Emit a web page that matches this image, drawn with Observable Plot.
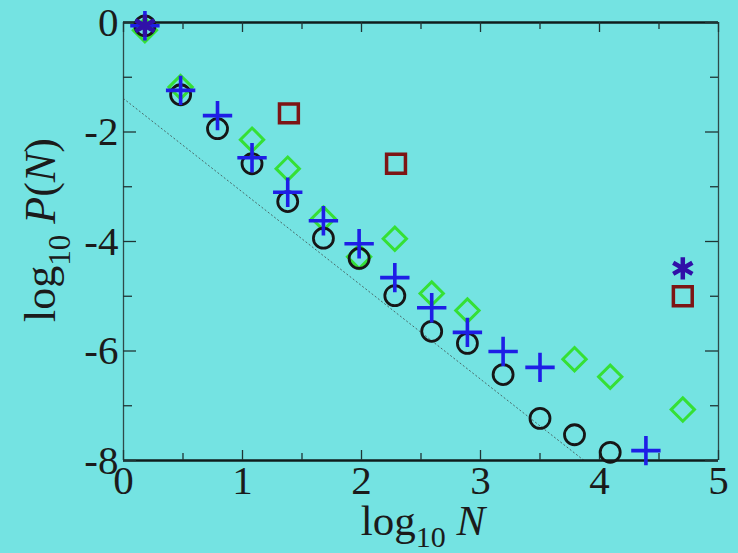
<!DOCTYPE html>
<html>
<head>
<meta charset="utf-8">
<script src="https://cdn.jsdelivr.net/npm/d3@7"></script>
<script src="https://cdn.jsdelivr.net/npm/@observablehq/plot@0.6"></script>
<style>
  html, body { margin: 0; padding: 0; background: #74e3e2; }
  #chart { width: 738px; height: 553px; }
</style>
</head>
<body>
<div id="chart"></div>
<script>
// Data (log10 N, log10 P(N))
const circleX = [0.18, 0.48, 0.79, 1.08, 1.38, 1.68, 1.98, 2.28, 2.59, 2.89, 3.19, 3.50, 3.79, 4.09];
const circleY = [-0.06, -1.32, -1.94, -2.58, -3.27, -3.94, -4.31, -4.99, -5.64, -5.86, -6.43, -7.23, -7.53, -7.85];

const plusX = [0.18, 0.48, 0.79, 1.08, 1.38, 1.68, 1.98, 2.28, 2.59, 2.89, 3.19, 3.50, 4.39];
const plusY = [-0.06, -1.24, -1.70, -2.47, -3.10, -3.62, -4.04, -4.66, -5.21, -5.66, -6.01, -6.30, -7.82];

const diamondX = [0.18, 0.48, 1.08, 1.38, 1.68, 1.98, 2.28, 2.59, 2.89, 3.79, 4.09, 4.70];
const diamondY = [-0.14, -1.18, -2.14, -2.67, -3.58, -4.28, -3.95, -4.95, -5.26, -6.15, -6.47, -7.07];

const squareX = [1.39, 2.29, 4.70];
const squareY = [-1.66, -2.58, -5.00];

const starX = [0.18, 4.70];
const starY = [-0.06, -4.49];

const fitX = [0, 3.87];
const fitY = [-1.39, -8];

const xMajor = [0, 1, 2, 3, 4, 5];
const xMinor = [0.5, 1.5, 2.5, 3.5, 4.5];
const yMajor = [0, -2, -4, -6, -8];
const yMinor = [-1, -3, -5, -7];

const pts = (xs, ys) => xs.map((x, i) => ({x, y: ys[i]}));

const W = 738, H = 553;
const mL = 123, mR = 20, mT = 22, mB = 93;
const pw = W - mL - mR, ph = H - mT - mB;
const font = "'Liberation Serif', 'Times New Roman', serif";
const fmt = d => String(d);
const ink = "#1b1b1b";

const chart = Plot.plot({
  width: W, height: H,
  marginLeft: mL, marginRight: mR, marginTop: mT, marginBottom: mB,
  style: {background: "transparent", fontFamily: font, color: ink, overflow: "visible"},
  x: {domain: [0, 5], axis: null},
  y: {domain: [-8, 0], axis: null},
  marks: [
    // fit line
    Plot.line(pts(fitX, fitY), {x: "x", y: "y", stroke: "#4a6a6a", strokeWidth: 1, strokeDasharray: "1.2,2.8"}),
    // frame
    Plot.ruleX([0, 5], {stroke: "#2e4a4a", strokeWidth: 1.3}),
    Plot.ruleY([0, -8], {stroke: "#0f1d1d", strokeWidth: 2.4}),
    // ticks (inward)
    Plot.tickX(xMajor, {x: d => d, insetTop: ph - 10, stroke: "#1f3535", strokeWidth: 1.3}),
    Plot.tickX(xMinor, {x: d => d, insetTop: ph - 7, stroke: "#1f3535", strokeWidth: 1.3}),
    Plot.tickX(xMajor, {x: d => d, insetBottom: ph - 10, stroke: "#1f3535", strokeWidth: 1.3}),
    Plot.tickX(xMinor, {x: d => d, insetBottom: ph - 7, stroke: "#1f3535", strokeWidth: 1.3}),
    Plot.tickY(yMajor, {y: d => d, insetRight: pw - 13, stroke: "#1f3535", strokeWidth: 1.3}),
    Plot.tickY(yMinor, {y: d => d, insetRight: pw - 9, stroke: "#1f3535", strokeWidth: 1.3}),
    Plot.tickY(yMajor, {y: d => d, insetLeft: pw - 13, stroke: "#1f3535", strokeWidth: 1.3}),
    Plot.tickY(yMinor, {y: d => d, insetLeft: pw - 8, stroke: "#1f3535", strokeWidth: 1.3}),
    // tick labels
    Plot.axisX({ticks: xMajor, tickSize: 0, tickPadding: 4, tickFormat: fmt, fontSize: 41, fontFamily: font, label: null}),
    Plot.axisY({ticks: yMajor, tickSize: 0, tickPadding: 5, tickFormat: fmt, fontSize: 41, fontFamily: font, label: null}),
    // data
    Plot.dot(pts(diamondX, diamondY), {x: "x", y: "y", symbol: "diamond2", r: 10.5, stroke: "#35e035", strokeWidth: 3}),
    Plot.dot(pts(squareX, squareY), {x: "x", y: "y", symbol: "square2", r: 12, stroke: "#7d1515", strokeWidth: 3.5}),
    Plot.dot(pts(circleX, circleY), {x: "x", y: "y", symbol: "circle", r: 10, stroke: "#161616", strokeWidth: 2.8}),
    Plot.dot(pts(plusX, plusY), {x: "x", y: "y", symbol: "plus", r: 9.5, stroke: "#1e1ee6", strokeWidth: 3.6}),
    Plot.dot(pts(starX, starY), {x: "x", y: "y", symbol: "asterisk", r: 10.5, stroke: "#3010a8", strokeWidth: 4.5})
  ]
});

const svg = d3.select(chart);
// x-axis title: log10 N
const xt = svg.append("text")
  .attr("x", 423).attr("y", 535)
  .attr("text-anchor", "middle")
  .attr("font-family", font).attr("font-size", 43).attr("fill", ink);
xt.append("tspan").text("log");
xt.append("tspan").attr("dy", 12).attr("font-size", 30).text("10");
xt.append("tspan").attr("dy", -12).text(" ");
xt.append("tspan").attr("font-style", "italic").text("N");

// y-axis title: log10 P(N)
const yt = svg.append("text")
  .attr("transform", "translate(55,230) rotate(-90)")
  .attr("text-anchor", "middle")
  .attr("font-family", font).attr("font-size", 44).attr("fill", ink);
yt.append("tspan").text("log");
yt.append("tspan").attr("dy", 15).attr("font-size", 31).text("10");
yt.append("tspan").attr("dy", -15).text(" ");
yt.append("tspan").attr("font-style", "italic").text("P");
yt.append("tspan").text("(");
yt.append("tspan").attr("font-style", "italic").text("N");
yt.append("tspan").text(")");

document.getElementById("chart").appendChild(chart);
</script>
</body>
</html>
